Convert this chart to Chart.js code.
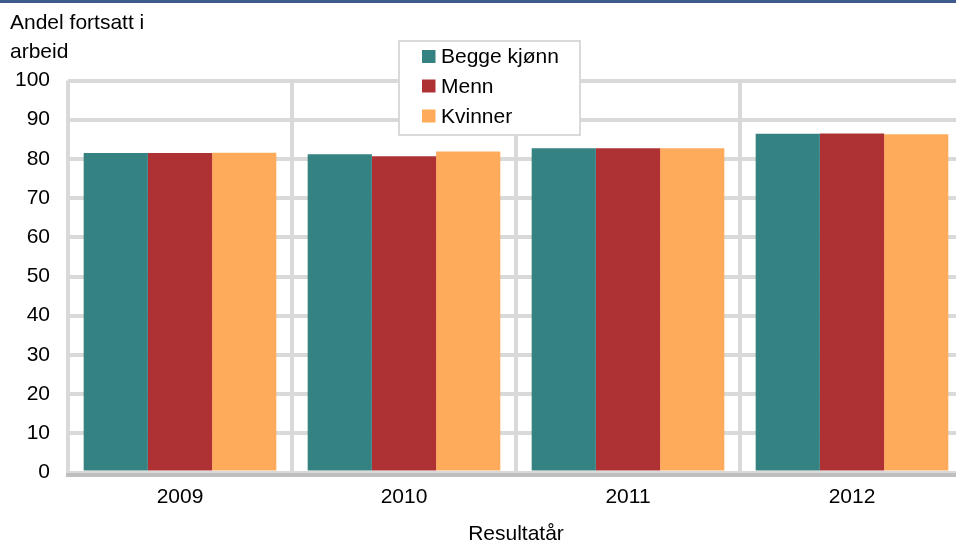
<!DOCTYPE html>
<html>
<head>
<meta charset="utf-8">
<script src="https://cdn.jsdelivr.net/npm/chart.js@4"></script>
<style>
  html, body { margin: 0; padding: 0; background: #fff; overflow: hidden; }
  #wrap { width: 980px; height: 548px; }
</style>
</head>
<body>
<div id="wrap"><canvas id="chart"></canvas></div>
<script>
// Data
const years = ['2009', '2010', '2011', '2012'];
const begge = [81.5, 81.2, 82.7, 86.4];
const menn = [81.5, 80.7, 82.7, 86.5];
const kvinner = [81.6, 81.9, 82.7, 86.3];
const yTitle = ['Andel fortsatt i', 'arbeid'];
const xTitle = 'Resultatår';

const FONT = { family: 'Arial, "Liberation Sans", sans-serif', size: 21 };

// top rule, y heading, axis line and the floating legend box
const extras = {
    id: 'extras',
    beforeDraw(chart) {
        const ctx = chart.ctx;
        ctx.save();
        ctx.fillStyle = '#3f5b8d';
        ctx.fillRect(0, 0, chart.width, 3);
        ctx.fillStyle = '#000';
        ctx.font = '21px ' + FONT.family;
        ctx.textBaseline = 'alphabetic';
        ctx.fillText(yTitle[0], 10, 29);
        ctx.fillText(yTitle[1], 10, 57.5);
        ctx.restore();
    },
    afterDatasetsDraw(chart) {
        const ctx = chart.ctx;
        const a = chart.chartArea;
        ctx.save();
        // x axis line sits just under the bars
        ctx.fillStyle = '#bfbfbf';
        ctx.fillRect(a.left - 2, a.bottom + 0.5, a.right - a.left + 4, 4);

        ctx.fillStyle = '#fff';
        ctx.strokeStyle = '#d9d9d9';
        ctx.lineWidth = 2;
        ctx.fillRect(399, 41, 181, 94);
        ctx.strokeRect(399, 41, 181, 94);
        ctx.font = '21px ' + FONT.family;
        ctx.textBaseline = 'middle';
        const rows = [56.5, 86, 116];
        chart.data.datasets.forEach((ds, i) => {
            ctx.fillStyle = ds.backgroundColor;
            ctx.fillRect(422, rows[i] - 6.5, 13.5, 13);
            ctx.fillStyle = '#000';
            ctx.fillText(ds.label, 441, rows[i] + 1);
        });
        ctx.restore();
    }
};

new Chart(document.getElementById('chart'), {
    type: 'bar',
    data: {
        labels: years,
        datasets: [
            { label: 'Begge kjønn', data: begge, backgroundColor: '#348382' },
            { label: 'Menn', data: menn, backgroundColor: '#ae3234' },
            { label: 'Kvinner', data: kvinner, backgroundColor: '#feab5c' }
        ]
    },
    options: {
        responsive: true,
        maintainAspectRatio: false,
        animation: false,
        layout: { padding: { top: 80.5, right: 16, left: 0, bottom: 0 } },
        datasets: { bar: { categoryPercentage: 0.86, barPercentage: 1 } },
        plugins: { legend: { display: false }, tooltip: { enabled: false } },
        scales: {
            x: {
                grid: { color: '#d9d9d9', lineWidth: 4, drawTicks: false, offset: true },
                border: { display: false },
                ticks: { color: '#000', font: FONT, padding: 12 },
                title: { display: true, text: xTitle, color: '#000', font: FONT, padding: { top: 0, bottom: 1 } },
                afterFit(scale) { scale.height = 75.5; }
            },
            y: {
                min: 0, max: 100,
                grid: { color: '#d9d9d9', lineWidth: 4, drawTicks: false },
                border: { display: false },
                ticks: { stepSize: 10, color: '#000', font: FONT, padding: 18 },
                afterFit(scale) { scale.width = 68; }
            }
        }
    },
    plugins: [extras]
});
</script>
</body>
</html>
